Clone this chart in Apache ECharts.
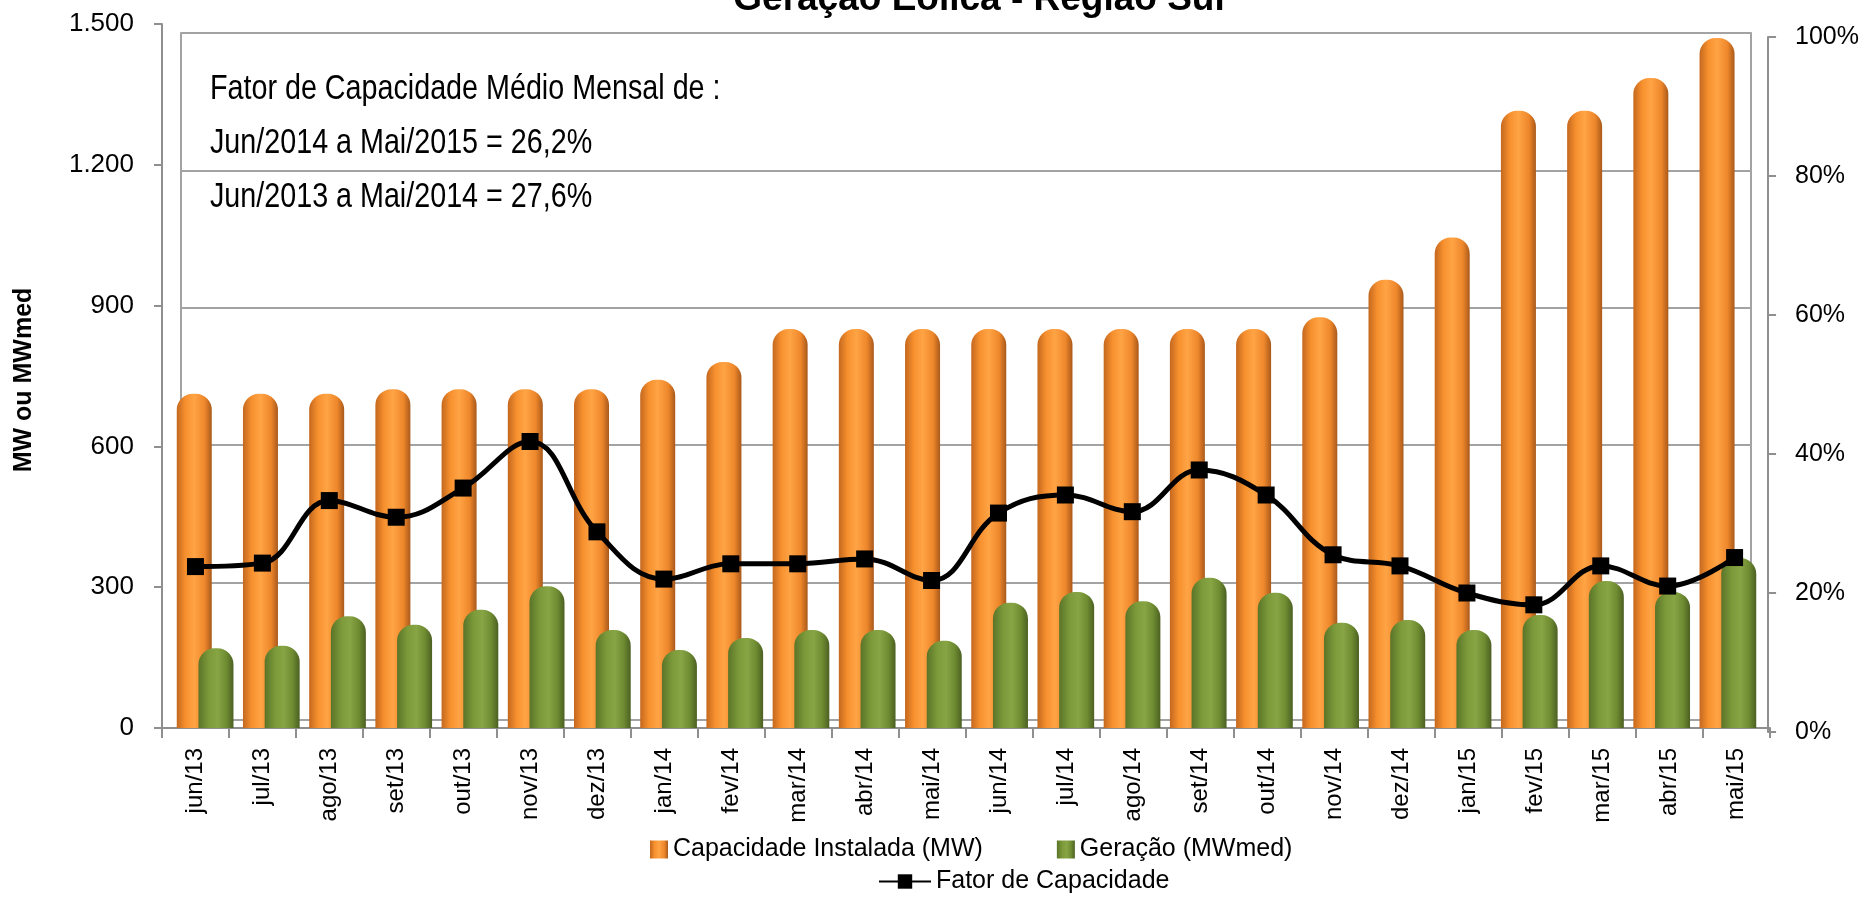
<!DOCTYPE html>
<html>
<head>
<meta charset="utf-8">
<script src="https://cdn.jsdelivr.net/npm/echarts@6/dist/echarts.min.js"></script>
<style>
  html, body { margin: 0; padding: 0; background: #fff; }
  #chart { width: 1862px; height: 900px; }
</style>
</head>
<body>
<div id="chart"></div>
<script>
var categories = ['jun/13','jul/13','ago/13','set/13','out/13','nov/13','dez/13','jan/14','fev/14','mar/14','abr/14','mai/14',
                  'jun/14','jul/14','ago/14','set/14','out/14','nov/14','dez/14','jan/15','fev/15','mar/15','abr/15','mai/15'];
var capacidade = [712,712,712,722,722,722,722,742,780,850,850,850,850,850,850,850,850,875,955,1045,1315,1315,1385,1470];
var geracao = [170,175,238,220,252,302,209,166,192,209,209,186,267,290,270,320,288,224,230,209,241,313,290,362];
var fator = [23.8,24.3,33.3,30.9,35.1,41.8,28.8,22.0,24.2,24.2,24.9,21.8,31.5,34.1,31.7,37.7,34.1,25.5,23.9,20.0,18.3,23.9,21.0,25.1];
var notas = ['Fator de Capacidade Médio Mensal de :', 'Jun/2014 a Mai/2015 = 26,2%', 'Jun/2013 a Mai/2014 = 27,6%'];

var fonte = "'Liberation Sans', Arial, sans-serif";
var axisGray = '#8f8f8f';
var gridGray = '#a3a3a3';

var laranja = {
    type: 'linear', x: 0, y: 0, x2: 1, y2: 0,
    colorStops: [
        {offset: 0, color: '#c4681f'},
        {offset: 0.25, color: '#f7902e'},
        {offset: 0.5, color: '#ffa445'},
        {offset: 0.8, color: '#ee872b'},
        {offset: 1, color: '#a9591b'}
    ]
};
var verde = {
    type: 'linear', x: 0, y: 0, x2: 1, y2: 0,
    colorStops: [
        {offset: 0, color: '#5a7428'},
        {offset: 0.3, color: '#7c9a3a'},
        {offset: 0.55, color: '#87a545'},
        {offset: 0.8, color: '#6e8b31'},
        {offset: 1, color: '#4b6022'}
    ]
};

function fmtMil(v) {
    return String(v).replace(/\B(?=(\d{3})+(?!\d))/g, '.');
}

var myChart = echarts.init(document.getElementById('chart'), null, {renderer: 'canvas'});

var graphics = [
    {
        type: 'text', x: 979, y: 0,
        style: {text: 'Geração Eólica - Região Sul', font: 'bold 37px ' + fonte,
                fill: '#000', align: 'center', verticalAlign: 'middle'}
    },
    {
        type: 'text', x: 24, y: 380, rotation: Math.PI / 2,
        style: {text: 'MW ou MWmed', font: 'bold 25px ' + fonte,
                fill: '#000', align: 'center', verticalAlign: 'middle'}
    }
];
// texto estreito (Arial Narrow) -> Liberation Sans comprimida na horizontal
var notaY = [89, 143, 197];
for (var i = 0; i < notas.length; i++) {
    graphics.push({
        type: 'text', x: 210, y: notaY[i], z: 10, scaleX: 0.82,
        style: {text: notas[i], font: '35px ' + fonte, fill: '#000', align: 'left', verticalAlign: 'middle'}
    });
}

var option = {
    animation: false,
    backgroundColor: '#fff',
    textStyle: {fontFamily: fonte},
    graphic: graphics,
    legend: [
        {
            left: 645, top: 832,
            itemWidth: 18, itemHeight: 18, itemGap: 74,
            icon: 'rect',
            textStyle: {fontSize: 25, color: '#000', fontFamily: fonte},
            data: ['Capacidade Instalada (MW)', 'Geração (MWmed)']
        },
        {
            left: 873, top: 864,
            itemWidth: 52, itemHeight: 18,
            textStyle: {fontSize: 25, color: '#000', fontFamily: fonte},
            data: ['Fator de Capacidade']
        }
    ],
    grid: [
        // frente: eixo das categorias e eixo esquerdo
        {left: 162, right: 92, top: 24, bottom: 172},
        // parede do fundo
        {left: 181, right: 111, top: 33, bottom: 180},
        // eixo direito (fator)
        {left: 162, right: 92, top: 37, bottom: 168},
        // plano do meio, onde ficam as barras
        {left: 172, right: 101, top: 24, bottom: 172}
    ],
    xAxis: [
        {
            type: 'category', gridIndex: 0, data: categories,
            axisLine: {lineStyle: {color: axisGray, width: 2}},
            axisTick: {show: true, length: 10, lineStyle: {color: axisGray, width: 2}},
            axisLabel: {rotate: 90, margin: 20, fontSize: 24, color: '#000', fontFamily: fonte, interval: 0}
        },
        {type: 'category', gridIndex: 1, data: categories, show: false},
        {type: 'category', gridIndex: 2, data: categories, show: false},
        {type: 'category', gridIndex: 3, data: categories, show: false}
    ],
    yAxis: [
        {
            type: 'value', gridIndex: 0, min: 0, max: 1500, interval: 300,
            axisLine: {show: true, lineStyle: {color: axisGray, width: 2}},
            axisTick: {show: true, length: 8, lineStyle: {color: axisGray, width: 2}},
            splitLine: {show: false},
            axisLabel: {margin: 28, fontSize: 26, color: '#000', fontFamily: fonte,
                        formatter: function (v) { return fmtMil(v); }}
        },
        {
            type: 'value', gridIndex: 1, min: 0, max: 1500, interval: 300,
            axisLine: {show: true, lineStyle: {color: gridGray, width: 2}},
            axisTick: {show: false}, axisLabel: {show: false},
            splitLine: {show: true, lineStyle: {color: gridGray, width: 2}}
        },
        {
            type: 'value', gridIndex: 1, position: 'right', min: 0, max: 1500, interval: 300,
            axisLine: {show: true, lineStyle: {color: gridGray, width: 2}},
            axisTick: {show: false}, axisLabel: {show: false}, splitLine: {show: false}
        },
        {
            type: 'value', gridIndex: 2, position: 'right', min: 0, max: 100, interval: 20,
            axisLine: {show: true, lineStyle: {color: axisGray, width: 2}},
            axisTick: {show: true, length: 8, lineStyle: {color: axisGray, width: 2}},
            splitLine: {show: false},
            axisLabel: {margin: 27, fontSize: 25, color: '#000', fontFamily: fonte, formatter: '{value}%'}
        },
        {type: 'value', gridIndex: 3, min: 0, max: 1500, interval: 300, show: false, splitLine: {show: false}}
    ],
    series: [
        {
            name: 'Capacidade Instalada (MW)',
            type: 'bar', xAxisIndex: 3, yAxisIndex: 4,
            barWidth: 35, barGap: '-38%',
            itemStyle: {color: laranja, borderRadius: [16, 16, 0, 0]},
            data: capacidade
        },
        {
            name: 'Geração (MWmed)',
            type: 'bar', xAxisIndex: 3, yAxisIndex: 4,
            barWidth: 35, barGap: '-38%',
            itemStyle: {color: verde, borderRadius: [16, 16, 0, 0]},
            data: geracao
        },
        {
            name: 'Fator de Capacidade',
            type: 'line', xAxisIndex: 2, yAxisIndex: 3,
            smooth: 0.4,
            symbol: 'rect', symbolSize: 17,
            lineStyle: {color: '#000', width: 5},
            itemStyle: {color: '#000'},
            data: fator
        }
    ]
};

myChart.setOption(option);
window.addEventListener('resize', function () {
    myChart.resize();
});
</script>
</body>
</html>
